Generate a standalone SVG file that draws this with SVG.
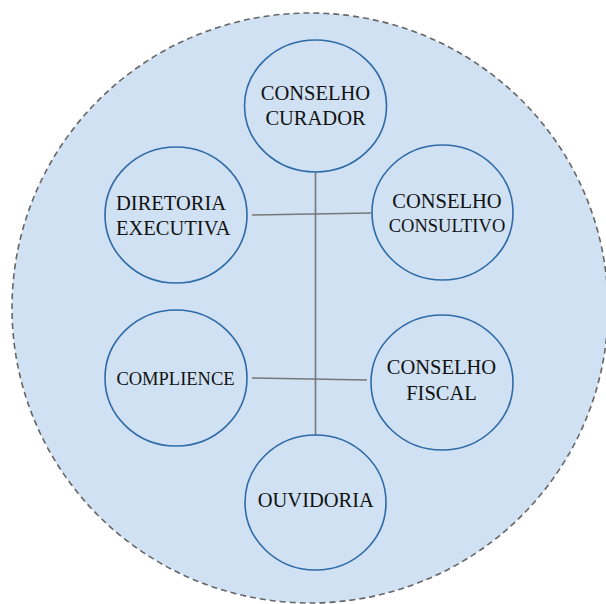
<svg xmlns="http://www.w3.org/2000/svg" width="606" height="604" viewBox="0 0 606 604">
<style>
.bg{fill:#cfe1f3;stroke:#666;stroke-width:1.6;stroke-dasharray:6 4}
.n{fill:none;stroke:#2f6aa6;stroke-width:1.6}
.c{stroke:#777;stroke-width:1.6;fill:none}
text{font-family:"Liberation Serif","Times New Roman",serif;font-size:20.5px;fill:#111;text-anchor:middle}
.s{font-size:18.5px}
</style>
<rect width="606" height="604" fill="#fff"/>
<ellipse class="bg" cx="310" cy="308" rx="298" ry="295"/>
<g id="connectors">
<line class="c" x1="315.5" y1="172" x2="315.5" y2="435"/>
<line class="c" x1="252" y1="215" x2="371" y2="213"/>
<line class="c" x1="252" y1="378" x2="367" y2="380"/>
</g>
<g id="curador">
<ellipse class="n" cx="315.5" cy="106" rx="71" ry="66"/>
<text x="315.5" y="100">CONSELHO</text>
<text x="315.5" y="125">CURADOR</text>
</g>
<g id="diretoria">
<ellipse class="n" cx="176" cy="215" rx="71" ry="68"/>
<text x="116" y="210" style="text-anchor:start">DIRETORIA</text>
<text x="116" y="235" style="text-anchor:start">EXECUTIVA</text>
</g>
<g id="consultivo">
<ellipse class="n" cx="442.5" cy="212.5" rx="70.5" ry="67.5"/>
<text x="447" y="208">CONSELHO</text>
<text class="s" x="447" y="232">CONSULTIVO</text>
</g>
<g id="compliance">
<ellipse class="n" cx="176" cy="378" rx="71" ry="68"/>
<text class="s" x="175.5" y="385">COMPLIENCE</text>
</g>
<g id="fiscal">
<ellipse class="n" cx="442" cy="382.5" rx="71" ry="67.5"/>
<text x="441.5" y="374">CONSELHO</text>
<text x="441.5" y="400">FISCAL</text>
</g>
<g id="ouvidoria">
<ellipse class="n" cx="315.5" cy="502.5" rx="70.5" ry="67.5"/>
<text x="315.8" y="507">OUVIDORIA</text>
</g>
</svg>
